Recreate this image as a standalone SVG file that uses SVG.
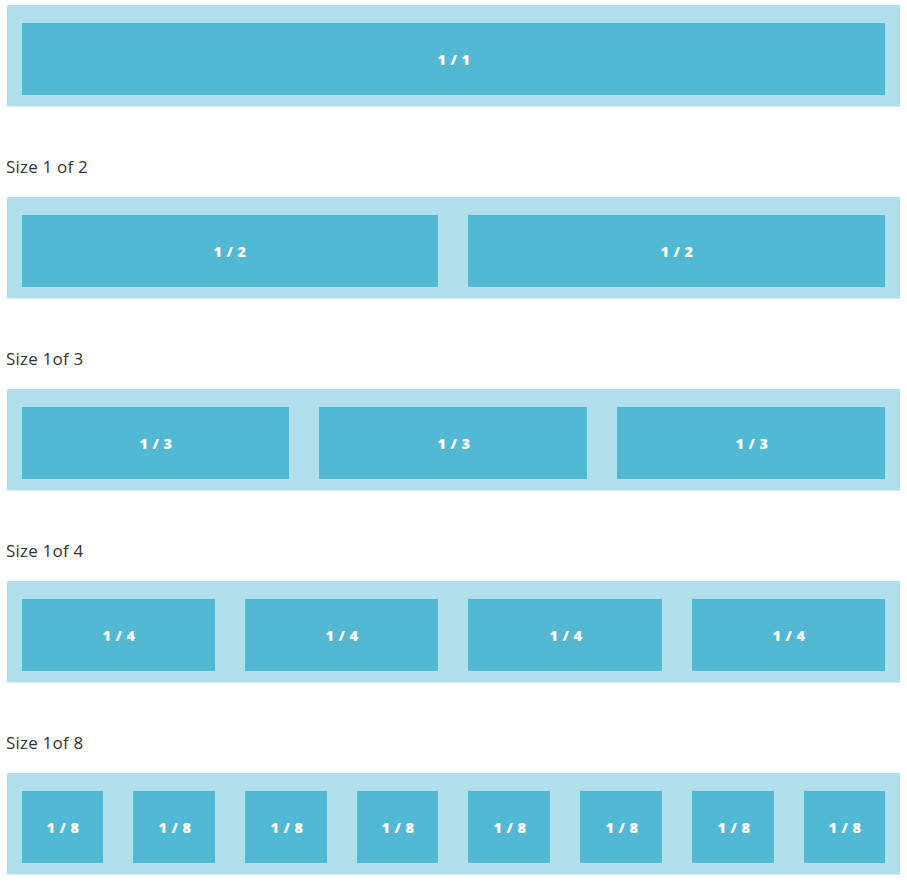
<svg xmlns="http://www.w3.org/2000/svg" width="907" height="882" viewBox="0 0 907 882">
<style>
.band{fill:#b1dfeb}
.cell{fill:#52b9d5}
.t{font-family:"Open Sans",sans-serif;font-weight:800;font-size:14.5px;fill:#ffffff;text-anchor:middle;letter-spacing:0.4px}
.lbl{font-family:"Open Sans",sans-serif;font-weight:500;font-size:17px;fill:#333333;letter-spacing:0.2px}
</style>
<rect width="907" height="882" fill="#ffffff"/>
<g id="row1">
<rect class="band" x="7" y="5" width="893" height="101.5"/>
<g id="r1c1"><rect class="cell" x="22" y="23" width="863" height="72"/><text class="t" x="454" y="64.5">1 / 1</text></g>
</g>
<text class="lbl" x="6" y="173">Size 1 of 2</text>
<g id="row2">
<rect class="band" x="7" y="197" width="893" height="101.5"/>
<g id="r2c1"><rect class="cell" x="22" y="215" width="416" height="72"/><text class="t" x="230" y="256.5">1 / 2</text></g>
<g id="r2c2"><rect class="cell" x="468" y="215" width="417" height="72"/><text class="t" x="677" y="256.5">1 / 2</text></g>
</g>
<text class="lbl" x="6" y="365">Size 1of 3</text>
<g id="row3">
<rect class="band" x="7" y="389" width="893" height="101.5"/>
<g id="r3c1"><rect class="cell" x="22" y="407" width="267" height="72"/><text class="t" x="156" y="448.5">1 / 3</text></g>
<g id="r3c2"><rect class="cell" x="319" y="407" width="268" height="72"/><text class="t" x="454" y="448.5">1 / 3</text></g>
<g id="r3c3"><rect class="cell" x="617" y="407" width="268" height="72"/><text class="t" x="752" y="448.5">1 / 3</text></g>
</g>
<text class="lbl" x="6" y="557">Size 1of 4</text>
<g id="row4">
<rect class="band" x="7" y="581" width="893" height="101.5"/>
<g id="r4c1"><rect class="cell" x="22" y="599" width="193" height="72"/><text class="t" x="119" y="640.5">1 / 4</text></g>
<g id="r4c2"><rect class="cell" x="245" y="599" width="193" height="72"/><text class="t" x="342" y="640.5">1 / 4</text></g>
<g id="r4c3"><rect class="cell" x="468" y="599" width="194" height="72"/><text class="t" x="566" y="640.5">1 / 4</text></g>
<g id="r4c4"><rect class="cell" x="692" y="599" width="193" height="72"/><text class="t" x="789" y="640.5">1 / 4</text></g>
</g>
<text class="lbl" x="6" y="749">Size 1of 8</text>
<g id="row5">
<rect class="band" x="7" y="773" width="893" height="101.5"/>
<g id="r5c1"><rect class="cell" x="22" y="791" width="81" height="72"/><text class="t" x="63" y="832.5">1 / 8</text></g>
<g id="r5c2"><rect class="cell" x="133" y="791" width="82" height="72"/><text class="t" x="175" y="832.5">1 / 8</text></g>
<g id="r5c3"><rect class="cell" x="245" y="791" width="82" height="72"/><text class="t" x="287" y="832.5">1 / 8</text></g>
<g id="r5c4"><rect class="cell" x="357" y="791" width="81" height="72"/><text class="t" x="398" y="832.5">1 / 8</text></g>
<g id="r5c5"><rect class="cell" x="468" y="791" width="82" height="72"/><text class="t" x="510" y="832.5">1 / 8</text></g>
<g id="r5c6"><rect class="cell" x="580" y="791" width="82" height="72"/><text class="t" x="622" y="832.5">1 / 8</text></g>
<g id="r5c7"><rect class="cell" x="692" y="791" width="82" height="72"/><text class="t" x="734" y="832.5">1 / 8</text></g>
<g id="r5c8"><rect class="cell" x="804" y="791" width="81" height="72"/><text class="t" x="845" y="832.5">1 / 8</text></g>
</g>
<g id="connectors"/>
</svg>
